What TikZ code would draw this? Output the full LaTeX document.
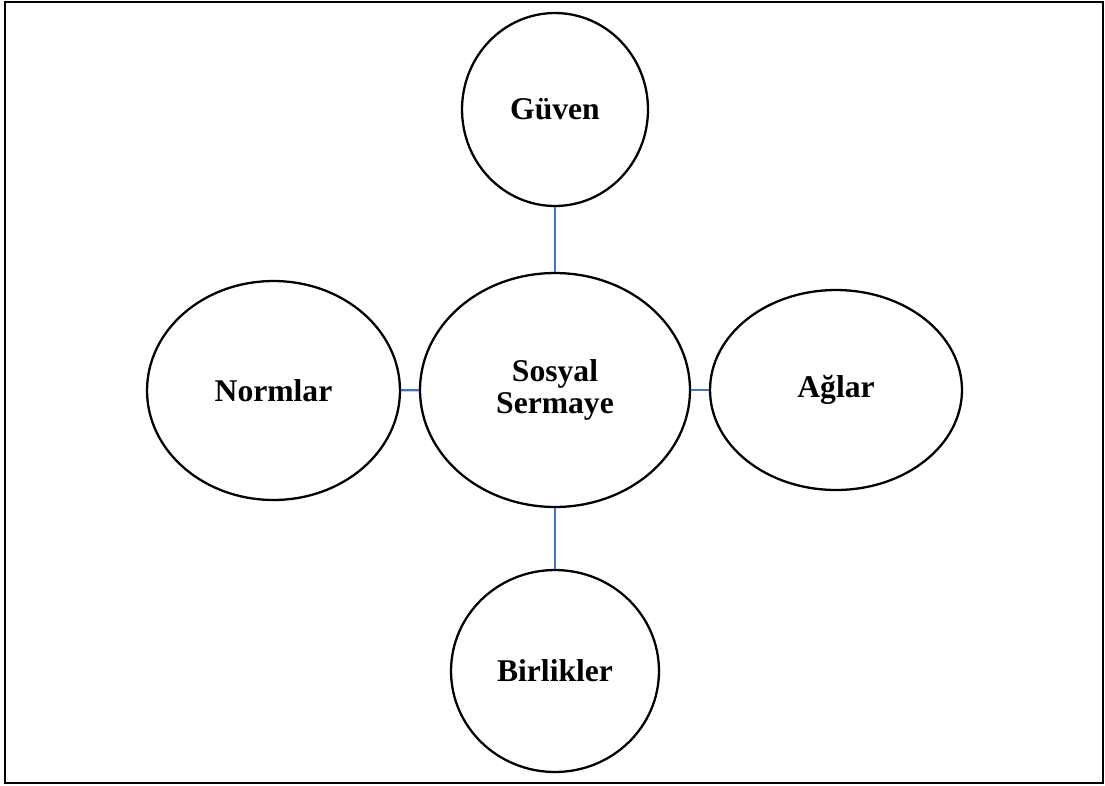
\documentclass[tikz,border=0pt]{standalone}
\usepackage{fontspec}
\setmainfont{Liberation Serif}
\usetikzlibrary{shapes.geometric}
\definecolor{linkblue}{RGB}{68,114,196}
\begin{document}
\begin{tikzpicture}[x=0.02cm, y=-0.02cm,
    bubble/.style={draw, ellipse, line width=1.3pt, inner sep=0pt, align=center,
      font=\fontsize{18}{18.7}\selectfont\bfseries},
    link/.style={draw=linkblue, line width=1.2pt}]
    \useasboundingbox (0,0) rectangle (1105,785);
    \draw[line width=1.2pt] (5,2) rectangle (1103,783);

    % central concept and its four parts
    \node[bubble, minimum width=5.4cm, minimum height=4.68cm] (sosyal) at (555,390) {Sosyal\\Sermaye};
    \node[bubble, minimum width=3.72cm, minimum height=3.86cm] (guven) at (555,109.5) {Güven};
    \node[bubble, minimum width=5.06cm, minimum height=4.38cm] (normlar) at (273.5,390.5) {Normlar};
    \node[bubble, minimum width=5.04cm, minimum height=4.0cm] (aglar) at (836,390) {Ağlar};
    \node[bubble, minimum width=4.16cm, minimum height=4.04cm] (birlikler) at (555,671) {Birlikler};

    \draw[link] (guven) -- (sosyal);
    \draw[link] (normlar) -- (sosyal);
    \draw[link] (sosyal) -- (aglar);
    \draw[link] (sosyal) -- (birlikler);
\end{tikzpicture}
\end{document}
